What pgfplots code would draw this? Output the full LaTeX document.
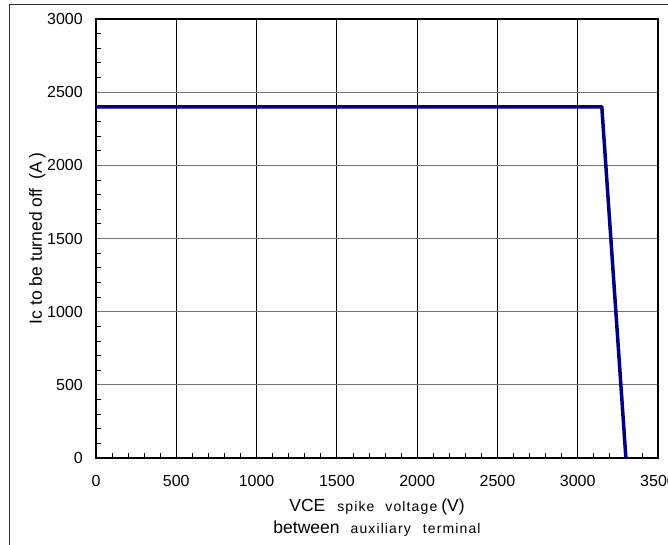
\documentclass[border=0pt]{standalone}
\usepackage{fontspec}
\setmainfont{Liberation Sans}
\newfontfamily\smallsp[LetterSpace=8]{Liberation Sans}
\usepackage{pgfplots}
\pgfplotsset{compat=1.18}
\definecolor{navy}{RGB}{0,0,128}
\begin{document}
\begin{tikzpicture}[x=1pt,y=1pt]
\useasboundingbox (0,0) rectangle (668,544);
\draw[line width=1pt,black!80] (9,-20) -- (9,539) -- (720,539);
\begin{axis}[
  at={(96pt,86pt)}, anchor=origin,
  scale only axis, width=562pt, height=439pt,
  xmin=0, xmax=3500, ymin=0, ymax=3000,
  xtick={0,500,...,3500}, ytick={0,500,...,3000},
  minor tick num=4,
  tick pos=left, tick align=inside,
  major tick length=0pt, minor tick length=5pt,
  minor tick style={line width=0.8pt,black},
  grid=major,
  major x grid style={line width=0.8pt,black},
  major y grid style={line width=1pt,black!55},
  axis line style={line width=1.4pt,black},
  /pgf/number format/assume math mode=true,
  /pgf/number format/1000 sep={},
  ticklabel style={font=\fontsize{16}{19}\selectfont},
  xticklabel style={anchor=base, yshift=-28pt, inner sep=0pt},
  yticklabel style={anchor=east, xshift=-13pt, inner sep=0pt},
  clip=false,
]
\addplot[navy, line width=3.5pt, line join=round] coordinates {(0,2400) (3150,2400) (3300,0)};
\draw[line width=2pt,black] (axis cs:3500,0) -- (axis cs:3500,3000);
\node[anchor=base, rotate=90, inner sep=0pt, font=\fontsize{17.5}{20}\selectfont] at ([xshift=-54pt]axis description cs:0,0.5) {Ic to be turned off\hspace{9pt}(A\hspace{3pt})};
\node[anchor=base, inner sep=0pt, font=\fontsize{17.5}{20}\selectfont] at ([yshift=-53pt]axis description cs:0.5,0) {VCE\hspace{12pt}{\fontsize{14}{16}\smallsp spike\hspace{11pt}voltage}\hspace{4pt}(V)};
\node[anchor=base, inner sep=0pt, font=\fontsize{17.5}{20}\selectfont] at ([yshift=-75pt]axis description cs:0.5,0) {between\hspace{11pt}{\fontsize{14}{16}\smallsp auxiliary\hspace{12pt}terminal}};
\end{axis}
\end{tikzpicture}
\end{document}
